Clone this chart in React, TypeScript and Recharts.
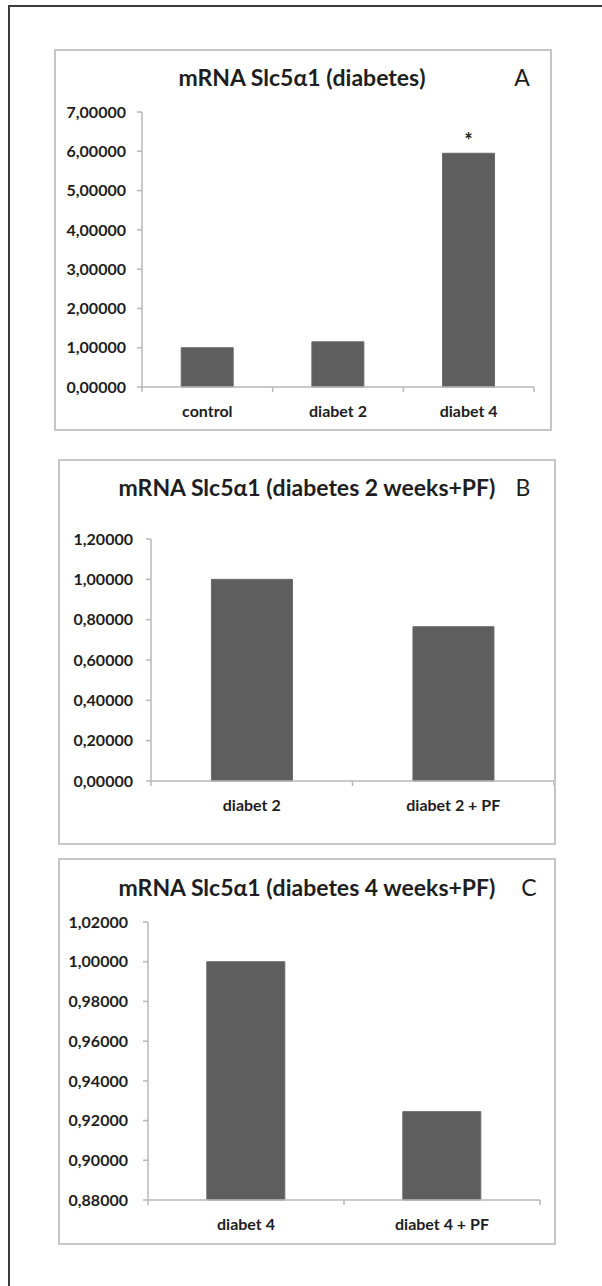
import { BarChart, Bar, XAxis, YAxis, LabelList } from 'recharts';

const catA = ['control', 'diabet 2', 'diabet 4'];
const valA = [1.0, 1.15, 5.95];
const sigA = ['', '', '*'];
const yTicksA = [0, 1, 2, 3, 4, 5, 6, 7];

const catB = ['diabet 2', 'diabet 2 + PF'];
const valB = [1.0, 0.765];
const sigB = ['', ''];
const yTicksB = [0, 0.2, 0.4, 0.6, 0.8, 1.0, 1.2];

const catC = ['diabet 4', 'diabet 4 + PF'];
const valC = [1.0, 0.9245];
const sigC = ['', ''];
const yTicksC = [0.88, 0.9, 0.92, 0.94, 0.96, 0.98, 1.0, 1.02];

const FONT = "Lato, 'Open Sans', sans-serif";
const AXIS = '#b8b8b8';
const BAR = '#5e5e5e';
const TEXT = '#1e1e1e';
const LABEL_GAP = 19;

const fmt = (v: number) => v.toFixed(5).replace('.', ',');

// category label plus Excel-style tick marks on the band edges
const EdgeTick = (props: any) => {
  const { x, y, payload, index, band, count } = props;
  const axisY = y - LABEL_GAP;
  const left = x - band / 2;
  const right = x + band / 2;
  return (
    <g>
      <line x1={left} x2={left} y1={axisY} y2={axisY + 5} stroke={AXIS} strokeWidth={1.5} />
      {index === count - 1 && (
        <line x1={right} x2={right} y1={axisY} y2={axisY + 5} stroke={AXIS} strokeWidth={1.5} />
      )}
      <text
        x={x}
        y={y}
        dy="0.71em"
        textAnchor="middle"
        fill={TEXT}
        fontSize={16}
        fontWeight={700}
        fontFamily={FONT}
      >
        {payload.value}
      </text>
    </g>
  );
};

type PanelProps = {
  left: number;
  top: number;
  width: number;
  height: number;
  title: string;
  letter: string;
  titleX: number;
  titleY: number;
  letterX: number;
  cats: string[];
  vals: number[];
  sig: string[];
  ticks: number[];
  margin: { top: number; right: number; bottom: number; left: number };
  tickGap: number;
};

const Y_WIDTH = 80;

const Panel = (p: PanelProps) => {
  const data = p.cats.map((name, i) => ({ name, value: p.vals[i], sig: p.sig[i] }));
  const w = p.width - 4;
  const h = p.height - 4;
  const band = (w - p.margin.left - p.margin.right - Y_WIDTH) / p.cats.length;
  return (
    <div
      style={{
        position: 'absolute',
        left: p.left,
        top: p.top,
        width: p.width,
        height: p.height,
        boxSizing: 'border-box',
        border: '2px solid #c6c6c6',
        background: '#fff',
      }}
    >
      <div
        style={{
          position: 'absolute',
          left: p.titleX - 250,
          width: 500,
          top: p.titleY - 15,
          lineHeight: '30px',
          textAlign: 'center',
          fontFamily: FONT,
          fontWeight: 700,
          fontSize: 23,
          color: TEXT,
          whiteSpace: 'nowrap',
        }}
      >
        {p.title}
      </div>
      <div
        style={{
          position: 'absolute',
          left: p.letterX - 20,
          width: 40,
          top: p.titleY - 15,
          lineHeight: '30px',
          textAlign: 'center',
          fontFamily: FONT,
          fontSize: 23,
          color: TEXT,
        }}
      >
        {p.letter}
      </div>
      <div style={{ position: 'absolute', left: 0, top: 0 }}>
        <BarChart width={w} height={h} data={data} margin={p.margin} barCategoryGap="30%">
          <XAxis
            dataKey="name"
            height={30}
            axisLine={{ stroke: AXIS, strokeWidth: 1.5 }}
            tickLine={false}
            tickSize={0}
            tickMargin={LABEL_GAP}
            interval={0}
            tick={<EdgeTick band={band} count={p.cats.length} />}
          />
          <YAxis
            width={Y_WIDTH}
            domain={[p.ticks[0], p.ticks[p.ticks.length - 1]]}
            ticks={p.ticks}
            interval={0}
            tickFormatter={fmt}
            tickSize={5}
            tickMargin={p.tickGap - 5}
            axisLine={{ stroke: AXIS, strokeWidth: 1.5 }}
            tickLine={{ stroke: AXIS, strokeWidth: 1.5 }}
            tick={{ fill: TEXT, fontSize: 16, fontWeight: 700, fontFamily: FONT }}
          />
          <Bar dataKey="value" fill={BAR} stroke="#6a6a6a" strokeWidth={1} isAnimationActive={false}>
            <LabelList dataKey="sig" position="top" offset={5} fill={TEXT} fontSize={20} fontWeight={700} fontFamily={FONT} />
          </Bar>
        </BarChart>
      </div>
    </div>
  );
};

export default function App() {
  return (
    <div
      style={{
        position: 'absolute',
        left: 0,
        top: 0,
        width: 602,
        height: 1286,
        overflow: 'hidden',
        background: '#fff',
      }}
    >
      <div
        style={{
          position: 'absolute',
          left: 8,
          top: 5,
          width: 600,
          height: 1300,
          borderTop: '2px solid #3c3c3c',
          borderLeft: '2px solid #3c3c3c',
        }}
      />
      <Panel
        left={54}
        top={49}
        width={498}
        height={382}
        title="mRNA Slc5α1 (diabetes)"
        letter="A"
        titleX={246}
        titleY={26}
        letterX={466}
        cats={catA}
        vals={valA}
        sig={sigA}
        ticks={yTicksA}
        margin={{ top: 61, right: 16, bottom: 12, left: 6 }}
        tickGap={16}
      />
      <Panel
        left={58}
        top={459}
        width={498}
        height={386}
        title="mRNA Slc5α1 (diabetes 2 weeks+PF)"
        letter="B"
        titleX={247}
        titleY={26}
        letterX={463}
        cats={catB}
        vals={valB}
        sig={sigB}
        ticks={yTicksB}
        margin={{ top: 78, right: 0, bottom: 32, left: 11 }}
        tickGap={18}
      />
      <Panel
        left={58}
        top={858}
        width={498}
        height={387}
        title="mRNA Slc5α1 (diabetes 4 weeks+PF)"
        letter="C"
        titleX={247}
        titleY={27}
        letterX={469}
        cats={catC}
        vals={valC}
        sig={sigC}
        ticks={yTicksC}
        margin={{ top: 62, right: 14, bottom: 13, left: 8 }}
        tickGap={20}
      />
    </div>
  );
}
